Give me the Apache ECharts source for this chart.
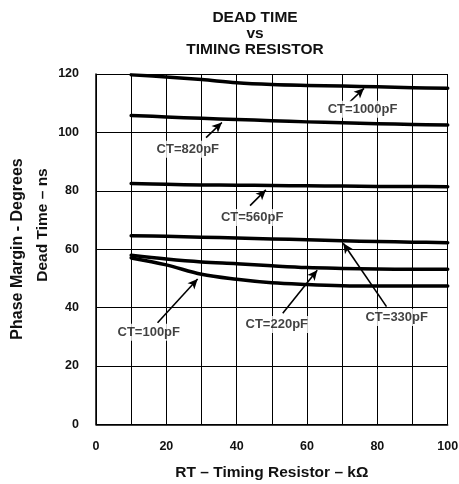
<!DOCTYPE html>
<html><head><meta charset="utf-8">
<script src="https://cdn.jsdelivr.net/npm/echarts@6/dist/echarts.min.js"></script>
<style>html,body{margin:0;padding:0;background:#fff}#c{width:459px;height:484px}</style>
</head><body><div id="c"></div>
<script>
const rt = [10, 20, 30, 40, 50, 60, 70, 80, 90, 100];
const ct1000 = [119.7, 119.0, 118.1, 117.0, 116.4, 116.1, 115.9, 115.6, 115.3, 115.1];
const ct820 = [105.8, 105.3, 104.8, 104.4, 104.0, 103.6, 103.3, 103.0, 102.7, 102.5];
const ct560 = [82.5, 82.2, 82.0, 81.9, 81.8, 81.7, 81.6, 81.5, 81.5, 81.4];
const ct330 = [64.6, 64.4, 64.1, 63.8, 63.5, 63.2, 62.9, 62.6, 62.4, 62.2];
const ct220 = [57.9, 56.6, 55.6, 55.0, 54.3, 53.7, 53.4, 53.2, 53.1, 53.1];
const ct100 = [57.0, 54.6, 51.4, 49.7, 48.5, 47.9, 47.5, 47.4, 47.4, 47.4];
const seriesNames = ['CT=1000pF', 'CT=820pF', 'CT=560pF', 'CT=330pF', 'CT=220pF', 'CT=100pF'];
const xTicks = [0, 20, 40, 60, 80, 100];
const yTicks = [0, 20, 40, 60, 80, 100, 120];
// annotation label anchors and arrow endpoints (data units)
const labelX = [75.8, 26.1, 44.4, 85.5, 51.4, 15.0];
const labelY = [107.9, 94.2, 70.8, 36.6, 34.2, 31.5];
const arrowFrom = [[72.2, 110.5], [31.3, 98.2], [43.8, 74.9], [82.6, 40.3], [53.1, 38.0], [17.5, 34.8]];
const arrowTo = [[76.2, 115.1], [35.8, 103.4], [48.3, 80.3], [70.3, 62.0], [62.9, 52.8], [28.9, 49.8]];

const FONT = '"Liberation Sans", Arial, sans-serif';
const INK = '#000';
const allSeries = [ct1000, ct820, ct560, ct330, ct220, ct100];

const chart = echarts.init(document.getElementById('c'), null, {renderer: 'canvas'});
const series = allSeries.map((vals, i) => ({
  name: seriesNames[i],
  type: 'line',
  data: rt.map((x, j) => [x, vals[j]]),
  smooth: 0.35,
  showSymbol: false,
  lineStyle: {color: INK, width: 3.5, cap: 'round', join: 'round'},
  z: 3,
  silent: true,
  markLine: {
    silent: true,
    animation: false,
    symbol: ['none', 'arrow'],
    symbolSize: [7, 10],
    label: {show: false},
    lineStyle: {color: INK, width: 1.6, type: 'solid'},
    data: [[{coord: arrowFrom[i]}, {coord: arrowTo[i]}]]
  }
}));
series.push({
  type: 'scatter',
  name: 'labels',
  symbolSize: 0,
  silent: true,
  z: 5,
  data: seriesNames.map((n, i) => ({value: [labelX[i], labelY[i]], name: n})),
  label: {
    show: true,
    position: 'inside',
    formatter: p => p.name,
    fontFamily: FONT, fontWeight: 'bold', fontSize: 13, color: '#111',
    backgroundColor: '#fff', padding: [2, 3]
  }
});

chart.setOption({
  animation: false,
  backgroundColor: '#fff',
  grid: {left: 96, right: 11.3, top: 74, bottom: 59.7, containLabel: false, outerBoundsMode: 'none'},
  xAxis: {
    type: 'value', min: 0, max: 100, interval: 10,
    name: 'RT – Timing Resistor – kΩ', nameLocation: 'middle', nameGap: 40,
    nameTextStyle: {fontFamily: FONT, fontWeight: 'bold', fontSize: 15.5, color: '#111'},
    axisLine: {show: true, lineStyle: {color: INK, width: 1.5}},
    axisTick: {show: false},
    axisLabel: {
      margin: 16, fontFamily: FONT, fontWeight: 'bold', fontSize: 12.5, color: '#111',
      formatter: v => xTicks.indexOf(v) >= 0 ? String(v) : ''
    },
    splitLine: {show: true, lineStyle: {color: INK, width: 1}}
  },
  yAxis: {
    type: 'value', min: 0, max: 120, interval: 20,
    axisLine: {show: true, lineStyle: {color: INK, width: 1.5}},
    axisTick: {show: false},
    axisLabel: {
      margin: 17, fontFamily: FONT, fontWeight: 'bold', fontSize: 12.5, color: '#111',
      formatter: v => yTicks.indexOf(v) >= 0 ? String(v) : ''
    },
    splitLine: {show: true, lineStyle: {color: INK, width: 1}}
  },
  graphic: [
    {type: 'text', x: 255, y: 17.5, style: {text: 'DEAD TIME', align: 'center', verticalAlign: 'middle', font: 'bold 15.5px "Liberation Sans", Arial', fill: '#111'}},
    {type: 'text', x: 255, y: 33.5, style: {text: 'vs', align: 'center', verticalAlign: 'middle', font: 'bold 15.5px "Liberation Sans", Arial', fill: '#111'}},
    {type: 'text', x: 255, y: 49.5, style: {text: 'TIMING RESISTOR', align: 'center', verticalAlign: 'middle', font: 'bold 15.5px "Liberation Sans", Arial', fill: '#111'}},
    {type: 'text', x: 17.3, y: 249, rotation: Math.PI / 2, style: {text: 'Phase Margin - Degrees', align: 'center', verticalAlign: 'middle', font: 'bold 16px "Liberation Sans", Arial', fill: '#111'}},
    {type: 'text', x: 42.7, y: 225, rotation: Math.PI / 2, style: {text: 'Dead Time – ns', align: 'center', verticalAlign: 'middle', font: 'bold 15.5px "Liberation Sans", Arial', fill: '#111'}}
  ],
  series: series
});
</script></body></html>
